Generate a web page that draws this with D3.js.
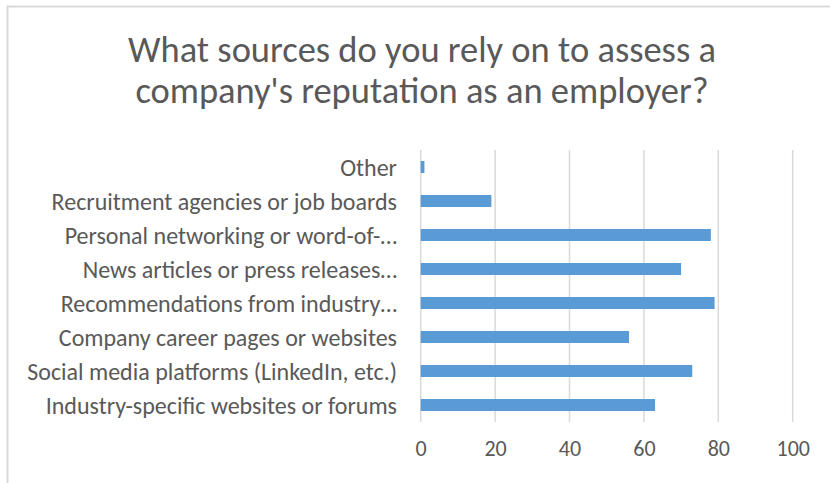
<!DOCTYPE html>
<html>
<head>
<meta charset="utf-8">
<script src="https://cdn.jsdelivr.net/npm/d3@7"></script>
<style>
  html, body { margin: 0; padding: 0; background: #ffffff; }
  svg { display: block; }
  text { font-family: Carlito, Calibri, Lato, "Open Sans", sans-serif; fill: #595959; }
</style>
</head>
<body>
<svg id="chart" width="830" height="483"></svg>
<script>
// Survey responses, listed top to bottom as shown
const categories = [
  "Other",
  "Recruitment agencies or job boards",
  "Personal networking or word-of-…",
  "News articles or press releases…",
  "Recommendations from industry…",
  "Company career pages or websites",
  "Social media platforms (LinkedIn, etc.)",
  "Industry-specific websites or forums"
];
const values = [1, 19, 78, 70, 79, 56, 73, 63];
const tickValues = [0, 20, 40, 60, 80, 100];
const titleLines = [
  "What sources do you rely on to assess a",
  "company's reputation as an employer?"
];

const svg = d3.select("#chart");
const W = 830, H = 483;

svg.append("rect").attr("width", W).attr("height", H).attr("fill", "#ffffff");

// chart frame (top and left edges visible)
svg.append("path")
  .attr("d", `M7.5,${H + 2} L7.5,6.5 L${W + 2},6.5`)
  .attr("fill", "none")
  .attr("stroke", "#d9d9d9")
  .attr("stroke-width", 2);

// title
svg.append("g").selectAll("text")
  .data(titleLines)
  .join("text")
  .attr("x", 422)
  .attr("y", (d, i) => 62 + i * 41)
  .attr("text-anchor", "middle")
  .attr("font-size", 36.5)
  .text(d => d);

const plot = { left: 420.7, right: 792.7, top: 150, bottom: 422 };

const x = d3.scaleLinear().domain([0, 100]).range([plot.left, plot.right]);
const y = d3.scaleBand()
  .domain(categories)
  .range([plot.top, plot.bottom])
  .paddingInner(0.647)
  .paddingOuter(0.3235);

// vertical gridlines
svg.append("g").selectAll("line")
  .data(tickValues)
  .join("line")
  .attr("x1", d => x(d)).attr("x2", d => x(d))
  .attr("y1", plot.top).attr("y2", plot.bottom)
  .attr("stroke", "#d9d9d9")
  .attr("stroke-width", 1.5);

// bars
svg.append("g").selectAll("rect")
  .data(categories.map((c, i) => ({ c, v: values[i] })))
  .join("rect")
  .attr("x", x(0))
  .attr("y", d => y(d.c))
  .attr("width", d => x(d.v) - x(0))
  .attr("height", y.bandwidth())
  .attr("fill", "#5b9bd5");

// value axis labels
const xAxis = d3.axisBottom(x).tickValues(tickValues).tickSize(0).tickPadding(0);
const gx = svg.append("g").attr("transform", `translate(0,${plot.bottom})`).call(xAxis);
gx.attr("font-family", null).attr("font-size", null);
gx.select(".domain").remove();
gx.selectAll("text")
  .attr("font-size", 22)
  .attr("fill", "#595959")
  .attr("y", 0)
  .attr("dy", 0)
  .attr("transform", "translate(0,34)");

// category axis labels
const yAxis = d3.axisLeft(y).tickSize(0).tickPadding(0);
const gy = svg.append("g").attr("transform", `translate(397,0)`).call(yAxis);
gy.attr("font-family", null).attr("font-size", null);
gy.select(".domain").remove();
gy.selectAll("text")
  .attr("font-size", 24)
  .attr("fill", "#595959")
  .attr("x", 0)
  .attr("dy", "0.36em");
</script>
</body>
</html>
